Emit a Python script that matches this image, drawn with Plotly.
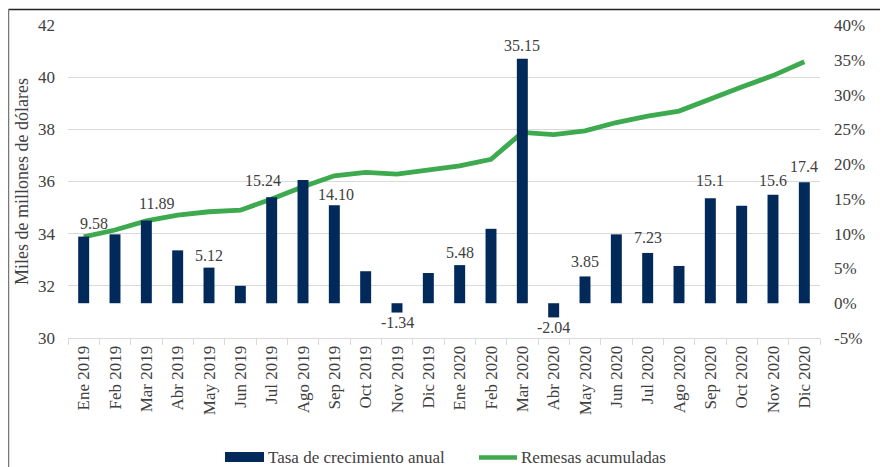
import plotly.graph_objects as go

months = ["Ene 2019", "Feb 2019", "Mar 2019", "Abr 2019", "May 2019", "Jun 2019",
          "Jul 2019", "Ago 2019", "Sep 2019", "Oct 2019", "Nov 2019", "Dic 2019",
          "Ene 2020", "Feb 2020", "Mar 2020", "Abr 2020", "May 2020", "Jun 2020",
          "Jul 2020", "Ago 2020", "Sep 2020", "Oct 2020", "Nov 2020", "Dic 2020"]

growth = [9.58, 9.9, 11.89, 7.6, 5.12, 2.5, 15.24, 17.7, 14.10, 4.6, -1.34, 4.35,
          5.48, 10.7, 35.15, -2.04, 3.85, 9.9, 7.23, 5.36, 15.1, 14.0, 15.6, 17.4]

growth_labels = ["9.58", "", "11.89", "", "5.12", "", "15.24", "", "14.10", "", "-1.34", "",
                 "5.48", "", "35.15", "-2.04", "3.85", "", "7.23", "", "15.1", "", "15.6", "17.4"]

remesas = [33.88, 34.14, 34.49, 34.71, 34.84, 34.90, 35.33, 35.80, 36.22, 36.35, 36.28, 36.44,
           36.60, 36.85, 37.88, 37.80, 37.94, 38.26, 38.51, 38.70, 39.18, 39.62, 40.06, 40.59]

left_ticks = [30, 32, 34, 36, 38, 40, 42]
right_ticks = [-5, 0, 5, 10, 15, 20, 25, 30, 35, 40]
right_tick_text = [f"{v}%" for v in right_ticks]

FONT = "Liberation Serif, 'Times New Roman', 'DejaVu Serif', serif"
GRAY = "#404040"
NAVY = "#012a5a"
GREEN = "#3daa4f"

fig = go.Figure()
fig.add_trace(go.Bar(
    x=months, y=growth, yaxis="y2", name="Tasa de crecimiento anual",
    marker=dict(color=NAVY, line=dict(width=0)),
    width=0.35, showlegend=False,
))
fig.add_trace(go.Scatter(
    x=months, y=remesas, yaxis="y", name="Remesas acumuladas", mode="lines",
    line=dict(color=GREEN, width=4.8), showlegend=False,
))

# page has an 8px body margin: figure drawn 8px right/down of page origin
OFF = 8
W, H = 888 - OFF, 467 - OFF
L, R, T, B = 68 - OFF, 68, 25 - OFF, 129
pw = W - L - R
ph = H - T - B

def px_x(x):  # page pixel -> paper
    return (x - OFF - L) / pw

def px_y(y):
    return 1 - (y - OFF - T) / ph

shapes = [
    dict(type="line", xref="paper", yref="paper",
         x0=px_x(8.5), x1=px_x(888), y0=px_y(9.5), y1=px_y(9.5),
         line=dict(color="#222222", width=1.5)),
    dict(type="line", xref="paper", yref="paper",
         x0=px_x(8.5), x1=px_x(8.5), y0=px_y(9.5), y1=px_y(467),
         line=dict(color="#777777", width=1.5)),
    # legend symbols
    dict(type="rect", xref="paper", yref="paper",
         x0=px_x(225), x1=px_x(264), y0=px_y(462), y1=px_y(452),
         fillcolor=NAVY, line=dict(width=0)),
    dict(type="line", xref="paper", yref="paper",
         x0=px_x(479), x1=px_x(517), y0=px_y(457.5), y1=px_y(457.5),
         line=dict(color=GREEN, width=4.5)),
]

annotations = [
    dict(text="Tasa de crecimiento anual", xref="paper", yref="paper",
         x=px_x(266), y=px_y(457), xanchor="left", yanchor="middle", showarrow=False,
         font=dict(family=FONT, size=17, color=GRAY)),
    dict(text="Remesas acumuladas", xref="paper", yref="paper",
         x=px_x(519), y=px_y(457), xanchor="left", yanchor="middle", showarrow=False,
         font=dict(family=FONT, size=17, color=GRAY)),
]

# data-label placement (pixel offsets of label centre from bar end), as in the original
label_shift = {"9.58": (10, 13), "11.89": (10, 17), "15.24": (-9, 17), "14.10": (2, 11),
               "15.1": (0, 18), "7.23": (0, 15.5), "3.85": (0, 14.5), "17.4": (0, 16),
               "15.6": (0, 14.5), "35.15": (0, 13.5), "5.48": (0, 13), "5.12": (0, 12.5),
               "-1.34": (0, 9.5), "-2.04": (0, 10.5)}
for m, v, lab in zip(months, growth, growth_labels):
    if not lab:
        continue
    dx, dy = label_shift.get(lab, (0, 13))
    annotations.append(dict(
        text=lab, x=m, y=v, xref="x", yref="y2", showarrow=False,
        xanchor="center", yanchor="middle", xshift=dx, yshift=dy if v >= 0 else -dy,
        font=dict(family=FONT, size=16, color=GRAY)))

fig.update_layout(
    width=W, height=H,
    margin=dict(l=L, r=R, t=T, b=B, autoexpand=False),
    paper_bgcolor="white", plot_bgcolor="white",
    font=dict(family=FONT, color=GRAY),
    showlegend=False,
    xaxis=dict(
        type="category", tickangle=-90, automargin=False,
        range=[-0.5, len(months) - 0.5],
        tickfont=dict(family=FONT, size=17, color=GRAY),
        showline=True, linecolor="#d9d9d9", linewidth=1,
        ticks="outside", tickson="boundaries", ticklen=6, tickcolor="#d9d9d9",
        showgrid=False,
    ),
    yaxis=dict(
        range=[30, 42], tickvals=left_ticks, automargin=False,
        tickfont=dict(family=FONT, size=17, color=GRAY),
        showgrid=True, gridcolor="#d9d9d9", gridwidth=1,
        zeroline=False, showline=False, ticks="", ticklabelstandoff=12,
        title=dict(text="Miles de millones de dólares", font=dict(family=FONT, size=18, color=GRAY),
                   standoff=4),
    ),
    yaxis2=dict(
        overlaying="y", side="right", range=[-5, 40], automargin=False,
        tickvals=right_ticks, ticktext=right_tick_text,
        tickfont=dict(family=FONT, size=17, color=GRAY),
        showgrid=False, zeroline=False, showline=False, ticks="", ticklabelstandoff=13,
    ),
    shapes=shapes,
    annotations=annotations,
)

fig.write_html("out.html")
